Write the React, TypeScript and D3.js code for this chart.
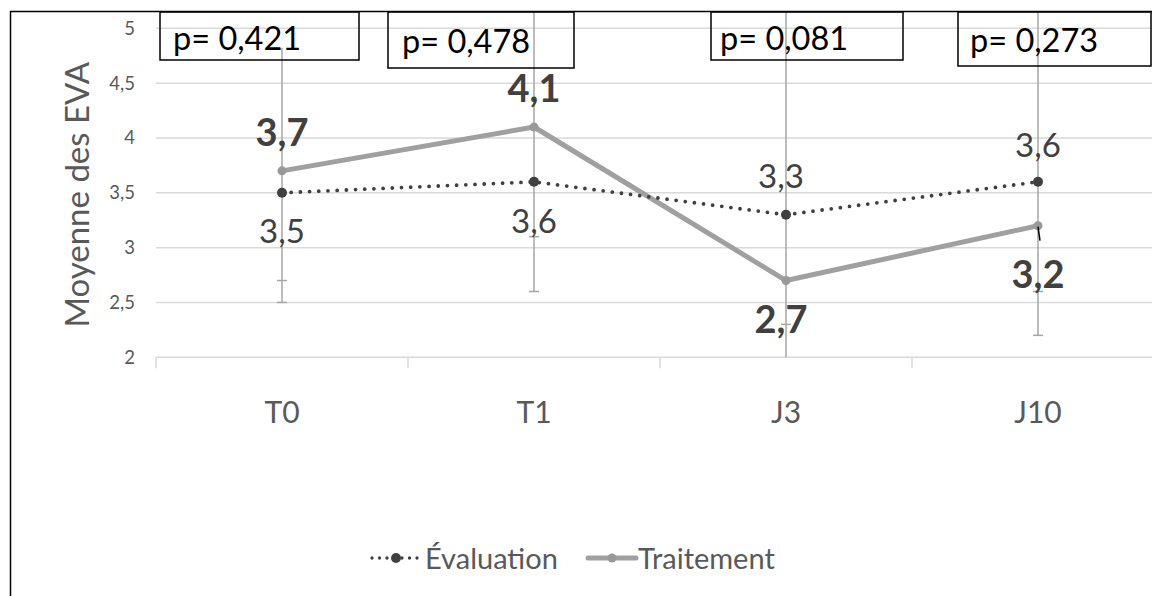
import React from "react";
import * as d3 from "d3";

const categories = ["T0", "T1", "J3", "J10"];
const evaluation = [3.5, 3.6, 3.3, 3.6];
const traitement = [3.7, 4.1, 2.7, 3.2];
// lower error amounts (caps drawn at the lower end)
const evalErrMinus = [0.8, 0.5, 1.0, 1.0];
const traitErrMinus = [1.2, 1.5, 0.8, 1.0];
// upper extent of the error bar line
const errTop = [4.82, 5.3, 5.3, 5.3];
const pValues = ["p= 0,421", "p= 0,478", "p= 0,081", "p= 0,273"];
const yTicks = [2, 2.5, 3, 3.5, 4, 4.5, 5];
const yTickLabels = ["2", "2,5", "3", "3,5", "4", "4,5", "5"];

// layout
const W = 1152;
const H = 596;
const plotLeft = 156;
const plotRight = 1164;
const plotTop = 28.3;
const plotBottom = 357.3;
const FONT = "Lato, 'Open Sans', sans-serif";

// label placement offsets (px, relative to point)
const evalLabelDy = [50, 51, -27, -25];
const traitLabelDy = [-25, -25, 52, 62];
const labelDx = [0, 0, -5, 0];
// p-value boxes relative to category center: [left, right, height]
const boxGeom = [
  [-122, 77, 48],
  [-146, 40, 56],
  [-75, 117, 48],
  [-80, 113, 54],
];
const boxTextDx = [13, 14, 9, 12];
const boxTextY = [50, 53, 50, 52];

const fmt = (v: number) => String(v).replace(".", ",");

export default function App() {
  const x = d3.scaleBand<string>().domain(categories).range([plotLeft, plotRight]).padding(0);
  const cx = (c: string) => (x(c) as number) + x.bandwidth() / 2;
  const y = d3.scaleLinear().domain([2, 5]).range([plotBottom, plotTop]);

  const line = d3
    .line<number>()
    .x((_, i) => cx(categories[i]))
    .y((d) => y(d));

  const clipTop = 12;
  const yc = (v: number) => Math.max(clipTop, Math.min(plotBottom, y(v)));

  const xTickPositions = [...categories.map((c) => x(c) as number), plotRight];

  return (
    <svg
      width={W}
      height={H}
      style={{ position: "absolute", left: 0, top: 0, display: "block", background: "#fff" }}
      fontFamily={FONT}
    >
      <rect x={0} y={0} width={W} height={H} fill="#fff" />
      {/* outer frame */}
      <rect x={10.5} y={11.5} width={1300} height={700} fill="none" stroke="#000" strokeWidth={1.5} />

      {/* gridlines */}
      {yTicks.map((t) => (
        <line key={t} x1={plotLeft} x2={plotRight} y1={y(t)} y2={y(t)} stroke="#d9d9d9" strokeWidth={1.5} />
      ))}
      {/* x tick marks */}
      {xTickPositions.map((p, i) => (
        <line key={i} x1={p} x2={p} y1={plotBottom} y2={plotBottom + 11} stroke="#d9d9d9" strokeWidth={1.5} />
      ))}

      {/* y tick labels */}
      {yTicks.map((t, i) => (
        <text key={t} x={135} y={y(t)} dy="0.35em" textAnchor="end" fontSize={18.5} fill="#595959">
          {yTickLabels[i]}
        </text>
      ))}
      {/* y axis title */}
      <text
        transform={`translate(89, ${(plotTop + plotBottom) / 2 + 2}) rotate(-90)`}
        textAnchor="middle"
        fontSize={33}
        fill="#595959"
      >
        Moyenne des EVA
      </text>

      {/* x labels */}
      {categories.map((c) => (
        <text key={c} x={cx(c)} y={423} textAnchor="middle" fontSize={30} fill="#595959">
          {c}
        </text>
      ))}

      {/* error bars */}
      {categories.map((c, i) => {
        const px = cx(c);
        const lowE = evaluation[i] - evalErrMinus[i];
        const lowT = traitement[i] - traitErrMinus[i];
        const bottom = Math.min(lowE, lowT);
        return (
          <g key={c} stroke="#a6a6a6" strokeWidth={1.5}>
            <line x1={px} x2={px} y1={yc(errTop[i])} y2={yc(bottom)} />
            {lowE >= 2 && <line x1={px - 5} x2={px + 5} y1={y(lowE)} y2={y(lowE)} />}
            {lowT >= 2 && <line x1={px - 5} x2={px + 5} y1={y(lowT)} y2={y(lowT)} />}
          </g>
        );
      })}

      {/* Traitement line */}
      <path d={line(traitement) as string} fill="none" stroke="#a0a0a0" strokeWidth={5} strokeLinejoin="round" />
      {/* Evaluation dotted line */}
      <path
        d={line(evaluation) as string}
        fill="none"
        stroke="#404040"
        strokeWidth={3.8}
        strokeLinecap="round"
        strokeDasharray="0 9.2"
      />
      {traitement.map((v, i) => (
        <circle key={"t" + i} cx={cx(categories[i])} cy={y(v)} r={4.5} fill="#999" />
      ))}
      {evaluation.map((v, i) => (
        <circle key={"e" + i} cx={cx(categories[i])} cy={y(v)} r={5} fill="#404040" />
      ))}

      {/* leader line at J10 */}
      <line
        x1={cx(categories[3])}
        y1={y(traitement[3]) + 1}
        x2={cx(categories[3]) + 2}
        y2={y(traitement[3]) + 15}
        stroke="#000"
        strokeWidth={1.5}
      />

      {/* data labels */}
      {evaluation.map((v, i) => (
        <text
          key={"el" + i}
          x={cx(categories[i]) + labelDx[i]}
          y={y(v) + evalLabelDy[i]}
          textAnchor="middle"
          fontSize={33}
          fill="#404040"
        >
          {fmt(v)}
        </text>
      ))}
      {traitement.map((v, i) => (
        <text
          key={"tl" + i}
          x={cx(categories[i]) + labelDx[i]}
          y={y(v) + traitLabelDy[i]}
          textAnchor="middle"
          fontSize={38}
          fontWeight="bold"
          fill="#404040"
        >
          {fmt(v)}
        </text>
      ))}

      {/* p-value boxes */}
      {categories.map((c, i) => {
        const px = cx(c);
        const [l, r, h] = boxGeom[i];
        return (
          <g key={"p" + i}>
            <rect x={px + l} y={12} width={r - l} height={h} fill="none" stroke="#000" strokeWidth={1.5} />
            <text x={px + l + boxTextDx[i]} y={boxTextY[i]} fontSize={32.5} fill="#000">
              {pValues[i]}
            </text>
          </g>
        );
      })}

      {/* legend */}
      <g>
        <line x1={372} x2={418} y1={558} y2={558} stroke="#404040" strokeWidth={3.3} strokeLinecap="round" strokeDasharray="0 7.5" />
        <circle cx={396} cy={558} r={5} fill="#404040" />
        <text x={425} y={569} fontSize={29} fill="#595959">
          Évaluation
        </text>
        <line x1={588} x2={636} y1={558} y2={558} stroke="#a0a0a0" strokeWidth={5} strokeLinecap="round" />
        <circle cx={612} cy={558} r={4.5} fill="#999" />
        <text x={638} y={569} fontSize={29} fill="#595959">
          Traitement
        </text>
      </g>
    </svg>
  );
}
